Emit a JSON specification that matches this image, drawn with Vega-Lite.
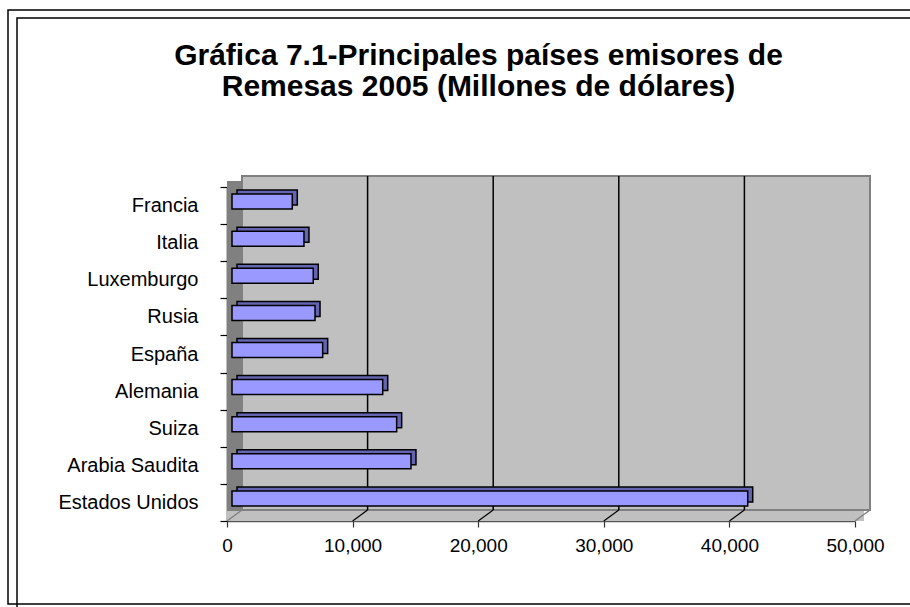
{
  "$schema": "https://vega.github.io/schema/vega-lite/v6.json",
  "autosize": {"type": "none"},
  "padding": {"left": 17, "top": 18, "right": 0, "bottom": 0},
  "width": 893,
  "height": 589,
  "background": "white",
  "config": {"view": {"stroke": null}, "font": "Liberation Sans"},
  "title": {
    "text": ["Gráfica 7.1-Principales países emisores de", "Remesas 2005 (Millones de dólares)"],
    "font": "Liberation Sans",
    "fontSize": 30,
    "fontWeight": "bold",
    "color": "black",
    "anchor": "middle",
    "frame": "group",
    "dx": 15,
    "offset": -117,
    "baseline": "alphabetic",
    "lineHeight": 31
  },
  "datasets": {
    "remesas": [
      {"pais": "Francia", "valor": 4800},
      {"pais": "Italia", "valor": 5730},
      {"pais": "Luxemburgo", "valor": 6470},
      {"pais": "Rusia", "valor": 6610},
      {"pais": "España", "valor": 7220},
      {"pais": "Alemania", "valor": 12000},
      {"pais": "Suiza", "valor": 13110},
      {"pais": "Arabia Saudita", "valor": 14250},
      {"pais": "Estados Unidos", "valor": 41060}
    ],
    "grid": [{"v": 10000}, {"v": 20000}, {"v": 30000}, {"v": 40000}],
    "bordes": [{"v": 0}, {"v": 50000}],
    "uno": [{"k": 1}]
  },
  "layer": [
    {
      "data": {"name": "uno"},
      "mark": {"type": "rect", "filled": false, "stroke": "black", "strokeWidth": 1.5},
      "encoding": {
        "x": {"datum": 0, "type": "quantitative", "scale": {"domain": [0, 1], "range": [-9, 1000]}, "axis": null},
        "x2": {"datum": 1},
        "y": {"datum": 0, "type": "quantitative", "scale": {"domain": [0, 1], "range": [-8, 586]}, "axis": null},
        "y2": {"datum": 1}
      }
    },
    {
      "data": {"name": "uno"},
      "mark": {"type": "rect", "filled": false, "stroke": "black", "strokeWidth": 1.5},
      "encoding": {
        "x": {"datum": 0, "type": "quantitative", "scale": {"domain": [0, 1], "range": [0, 1000]}, "axis": null},
        "x2": {"datum": 1},
        "y": {"datum": 0, "type": "quantitative", "scale": {"domain": [0, 1], "range": [0, 1000]}, "axis": null},
        "y2": {"datum": 1}
      }
    },
    {
      "data": {"name": "uno"},
      "mark": {"type": "rect", "fill": "#808080", "xOffset": -15, "x2Offset": 0, "yOffset": 5, "y2Offset": 11},
      "encoding": {
        "x": {"datum": 0, "type": "quantitative", "scale": {"domain": [0, 50000], "range": [225, 853], "nice": false}, "axis": null},
        "x2": {"datum": 0},
        "y": {"datum": 0, "type": "quantitative", "scale": {"domain": [0, 1], "range": [158, 492], "nice": false}, "axis": null},
        "y2": {"datum": 1}
      }
    },
    {
      "data": {"name": "uno"},
      "mark": {"type": "rect", "fill": "#C0C0C0", "stroke": "#808080", "strokeWidth": 2},
      "encoding": {
        "x": {"datum": 0, "type": "quantitative", "scale": {"domain": [0, 50000], "range": [225, 853], "nice": false}, "axis": null},
        "x2": {"datum": 50000},
        "y": {"datum": 0, "type": "quantitative", "scale": {"domain": [0, 1], "range": [158, 492], "nice": false}, "axis": null},
        "y2": {"datum": 1}
      }
    },
    {
      "data": {"name": "uno"},
      "mark": {"type": "rect", "fill": "#C0C0C0", "xOffset": -15, "x2Offset": -6, "yOffset": 1, "y2Offset": 11},
      "encoding": {
        "x": {"datum": 0, "type": "quantitative", "scale": {"domain": [0, 50000], "range": [225, 853], "nice": false}, "axis": null},
        "x2": {"datum": 50000},
        "y": {"datum": 1, "type": "quantitative", "scale": {"domain": [0, 1], "range": [158, 492], "nice": false}, "axis": null},
        "y2": {"datum": 1}
      }
    },
    {
      "data": {"name": "grid"},
      "mark": {"type": "rule", "color": "black", "strokeWidth": 1.5},
      "encoding": {
        "x": {"field": "v", "type": "quantitative", "scale": {"domain": [0, 50000], "range": [225, 853], "nice": false}, "axis": null},
        "y": {"datum": 0, "type": "quantitative", "scale": {"domain": [0, 1], "range": [158, 492], "nice": false}, "axis": null},
        "y2": {"datum": 1}
      }
    },
    {
      "data": {"name": "grid"},
      "mark": {"type": "rule", "color": "black", "strokeWidth": 1.2, "x2Offset": -15, "y2Offset": 11},
      "encoding": {
        "x": {"field": "v", "type": "quantitative", "scale": {"domain": [0, 50000], "range": [225, 853], "nice": false}, "axis": null},
        "x2": {"field": "v"},
        "y": {"datum": 1, "type": "quantitative", "scale": {"domain": [0, 1], "range": [158, 492], "nice": false}, "axis": null},
        "y2": {"datum": 1}
      }
    },
    {
      "data": {"name": "bordes"},
      "mark": {"type": "rule", "color": "#808080", "strokeWidth": 1.5, "x2Offset": -15, "y2Offset": 11},
      "encoding": {
        "x": {"field": "v", "type": "quantitative", "scale": {"domain": [0, 50000], "range": [225, 853], "nice": false}, "axis": null},
        "x2": {"field": "v"},
        "y": {"datum": 1, "type": "quantitative", "scale": {"domain": [0, 1], "range": [158, 492], "nice": false}, "axis": null},
        "y2": {"datum": 1}
      }
    },
    {
      "data": {"name": "remesas"},
      "mark": {"type": "bar", "fill": "#6464B0", "stroke": "black", "strokeWidth": 1.5, "size": 15, "xOffset": -5, "x2Offset": -5, "yOffset": 3, "y2Offset": 3},
      "encoding": {
        "x": {"field": "valor", "type": "quantitative", "scale": {"domain": [0, 50000], "range": [225, 853], "nice": false, "zero": true}, "axis": null},
        "y": {"field": "pais", "type": "nominal", "scale": {"type": "band", "domain": ["Francia", "Italia", "Luxemburgo", "Rusia", "España", "Alemania", "Suiza", "Arabia Saudita", "Estados Unidos"], "range": [158, 492], "paddingInner": 0, "paddingOuter": 0}, "axis": null}
      }
    },
    {
      "data": {"name": "remesas"},
      "mark": {"type": "bar", "fill": "#9999FF", "stroke": "black", "strokeWidth": 1.5, "size": 15, "xOffset": -10, "x2Offset": -10, "yOffset": 7, "y2Offset": 7},
      "encoding": {
        "x": {
          "field": "valor", "type": "quantitative",
          "scale": {"domain": [0, 50000], "range": [225, 853], "nice": false, "zero": true},
          "axis": {
            "orient": "bottom", "title": null, "offset": -86, "position": -15,
            "values": [0, 10000, 20000, 30000, 40000, 50000], "format": ",d",
            "grid": false, "domainColor": "#555555", "domainWidth": 1.5,
            "tickColor": "#333333", "tickSize": 6, "tickWidth": 1.2,
            "labelFont": "Liberation Sans", "labelFontSize": 19, "labelColor": "black",
            "labelPadding": 9, "labelFlush": false, "labelOverlap": false
          }
        },
        "y": {
          "field": "pais", "type": "nominal",
          "scale": {"type": "band", "domain": ["Francia", "Italia", "Luxemburgo", "Rusia", "España", "Alemania", "Suiza", "Arabia Saudita", "Estados Unidos"], "range": [158, 492], "paddingInner": 0, "paddingOuter": 0},
          "axis": {
            "orient": "left", "title": null, "offset": -210, "position": 11,
            "tickBand": "extent", "grid": false,
            "domainColor": "black", "domainWidth": 1.5,
            "tickColor": "black", "tickSize": 7, "tickWidth": 1.2,
            "labelFont": "Liberation Sans", "labelFontSize": 20, "labelColor": "black",
            "labelPadding": 22, "labelOverlap": false
          }
        }
      }
    }
  ],
  "resolve": {"scale": {"x": "independent", "y": "independent"}, "axis": {"x": "independent", "y": "independent"}}
}
